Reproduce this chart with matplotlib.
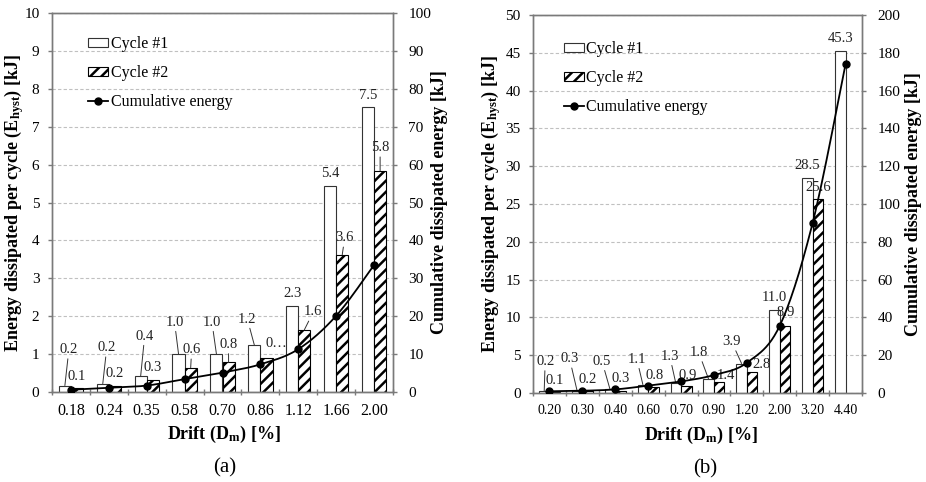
import numpy as np
import matplotlib
matplotlib.use("Agg")
import matplotlib.pyplot as plt
from matplotlib.lines import Line2D

plt.rcParams['font.family'] = ['Liberation Serif', 'DejaVu Serif']
plt.rcParams['mathtext.fontset'] = 'custom'
plt.rcParams['mathtext.rm'] = 'Liberation Serif'
plt.rcParams['mathtext.bf'] = 'Liberation Serif:bold'
plt.rcParams['mathtext.it'] = 'Liberation Serif:italic'
plt.rcParams['hatch.linewidth'] = 1.8
plt.rcParams['hatch.color'] = 'black'

# ---- panel (a) ----
drift_a = ["0.18", "0.24", "0.35", "0.58", "0.70", "0.86", "1.12", "1.66", "2.00"]
cycle1_a = [0.17, 0.22, 0.42, 1.00, 1.00, 1.24, 2.28, 5.44, 7.51]
cycle2_a = [0.10, 0.16, 0.32, 0.64, 0.78, 0.91, 1.64, 3.62, 5.84]
cumulative_a = [0.6, 1.1, 1.7, 3.4, 5.1, 7.3, 11.3, 20.1, 33.5]

# ---- panel (b) ----
drift_b = ["0.20", "0.30", "0.40", "0.60", "0.70", "0.90", "1.20", "2.00", "3.20", "4.40"]
cycle1_b = [0.2, 0.3, 0.5, 1.1, 1.3, 1.8, 3.9, 11.0, 28.5, 45.3]
cycle2_b = [0.1, 0.2, 0.3, 0.8, 0.9, 1.4, 2.8, 8.9, 25.6, np.nan]
cumulative_b = [0.9, 1.2, 1.9, 3.9, 6.1, 9.5, 16.0, 35.6, 90.0, 174.0]

# data-label placement (pixel offsets of label centre from bar top)
off1_a = [(4, 36), (4, 36), (4, 40), (-4, 32), (-4.5, 32), (-7, 26), (0, 12), (0, 12), (0, 12)]
off2_a = [(0, 12), (0, 12), (0, 12), (1, 18), (0, 18), (10, 14), (9, 18), (2.5, 17), (0, 23)]
off1_b = [(1, 30), (-7.5, 32), (-8, 28), (-6, 25.5), (-6, 27), (-10, 27), (-10, 22), (0, 12), (0, 12), (0, 12)]
off2_b = [(0, 12), (0, 12), (0, 12), (1, 11), (1.5, 11), (7, 7), (9, 7), (0.7, 13), (0, 12)]

GRAY = '#7a7a7a'
BAR_W = 0.32
PX = 72.0 / 100.0  # pixels -> points


def catmull_rom(x, y, n=24):
    pts = np.column_stack([x, y]).astype(float)
    P = np.vstack([pts[0], pts, pts[-1]])
    segs = []
    t = np.linspace(0, 1, n, endpoint=False)[:, None]
    for i in range(1, len(P) - 2):
        p0, p1, p2, p3 = P[i - 1], P[i], P[i + 1], P[i + 2]
        seg = 0.5 * ((2 * p1) + (-p0 + p2) * t + (2 * p0 - 5 * p1 + 4 * p2 - p3) * t ** 2
                     + (-p0 + 3 * p1 - 3 * p2 + p3) * t ** 3)
        segs.append(seg)
    segs.append(P[-2][None, :])
    s = np.vstack(segs)
    return s[:, 0], s[:, 1]


def label_bars(ax, xs, vals, offs, texts=None):
    for i, (x, v) in enumerate(zip(xs, vals)):
        if np.isnan(v):
            continue
        dx, dy = offs[i]
        txt = texts[i] if texts is not None else f"{v:.1f}"
        leader = dy > 15
        ax.annotate(txt, xy=(x, v), xytext=(dx * PX, dy * PX), textcoords='offset points',
                    ha='center', va='center', fontsize=10.5, color='#222222',
                    arrowprops=dict(arrowstyle='-', color='#333333', lw=0.7,
                                    shrinkA=0, shrinkB=0) if leader else None,
                    zorder=5)


def panel(ax, drift, c1, c2, cum, ymax, ystep, y2max, y2step, off1, off2,
          xfs, texts2=None, leg_anchor=(0.1, 0.94)):
    n = len(drift)
    x = np.arange(n)
    b1 = ax.bar(x - BAR_W / 2, c1, BAR_W, color='white', edgecolor='#333333',
                linewidth=0.8, label='Cycle #1', zorder=2)
    b2 = ax.bar(x + BAR_W / 2, c2, BAR_W, color='white', edgecolor='black',
                hatch='///', linewidth=0.8, label='Cycle #2', zorder=2)
    label_bars(ax, x - BAR_W / 2, c1, off1)
    label_bars(ax, x + BAR_W / 2, c2, off2, texts2)

    ax.set_xlim(-0.5, n - 0.5)
    ax.set_ylim(0, ymax)
    ax.set_yticks(np.arange(0, ymax + ystep / 2, ystep))
    ax.yaxis.grid(True, color='#c0c0c0', linestyle=(0, (3, 2)), linewidth=0.8)
    ax.set_axisbelow(True)
    ax.set_xticks(np.arange(-0.5, n, 1.0))
    ax.set_xticklabels([])
    ax.set_xticks(x, minor=True)
    ax.set_xticklabels(drift, minor=True)
    ax.tick_params(axis='x', which='major', direction='inout', length=5, width=1, color=GRAY)
    ax.tick_params(axis='x', which='minor', length=0, pad=8.2, labelsize=xfs)
    ax.tick_params(axis='y', direction='out', length=3, width=1, color=GRAY, pad=6, labelsize=11)

    ax2 = ax.twinx()
    ax2.set_ylim(0, y2max)
    ax2.set_yticks(np.arange(0, y2max + y2step / 2, y2step))
    ax2.tick_params(axis='y', direction='out', length=3, width=1, color=GRAY, pad=8, labelsize=11)
    sx, sy = catmull_rom(x, cum)
    ax2.plot(sx, sy, color='black', lw=1.3, zorder=4)
    ax2.plot(x, cum, 'o', color='black', markersize=5, zorder=5)
    for a in (ax, ax2):
        for sp in a.spines.values():
            sp.set_color(GRAY)
            sp.set_linewidth(1.0)

    handle_line = Line2D([], [], color='black', lw=1.3, marker='o', markersize=5)
    ax.legend([b1, b2, handle_line], ['Cycle #1', 'Cycle #2', 'Cumulative energy'],
              loc='upper left', bbox_to_anchor=leg_anchor, frameon=False, fontsize=11.5,
              handlelength=1.25, handleheight=0.5, handletextpad=0.15, labelspacing=0.82,
              borderpad=0, borderaxespad=0, numpoints=1)
    return ax2


fig = plt.figure(figsize=(9.26, 4.82), dpi=100)
ax_a = fig.add_axes([52 / 926, 1 - 392 / 482, 341 / 926, 379 / 482])
ax_b = fig.add_axes([533 / 926, 1 - 393 / 482, 329 / 926, 378 / 482])

texts2_a = [f"{v:.1f}" for v in cycle2_a]
texts2_a[5] = "0…"
ax_a2 = panel(ax_a, drift_a, cycle1_a, cycle2_a, cumulative_a, 10, 1, 100, 10,
              off1_a, off2_a, 11.5, texts2_a, leg_anchor=(0.106, 0.939))
ax_b2 = panel(ax_b, drift_b, cycle1_b, cycle2_b, cumulative_b, 50, 5, 200, 20,
              off1_b, off2_b, 10, None, leg_anchor=(0.094, 0.931))

ylab = r'Energy dissipated per cycle (E$_{\mathbf{hyst}}$) [kJ]'
y2lab = 'Cumulative dissipated energy [kJ]'
xlab = r'Drift (D$_{\mathbf{m}}$) [%]'

for ax, ax2, lx, rx, xx, panel_lab in ((ax_a, ax_a2, -0.111, 1.135, 0.504, '(a)'),
                                       (ax_b, ax_b2, -0.128, 1.158, 0.51, '(b)')):
    ax.set_ylabel(ylab, fontsize=13, fontweight='bold', va='center')
    ax.yaxis.set_label_coords(lx, 0.5)
    ax2.set_ylabel(y2lab, fontsize=13, fontweight='bold', va='center')
    ax2.yaxis.set_label_coords(rx, 0.5)
    ax.set_xlabel(xlab, fontsize=13, fontweight='bold', va='center')
    ax.xaxis.set_label_coords(xx, -0.113)

fig.text(224.5 / 926, 1 - 468 / 482, '(a)', fontsize=15, ha='center', va='center')
fig.text(705 / 926, 1 - 468.5 / 482, '(b)', fontsize=15, ha='center', va='center')

fig.savefig('out.png', dpi=100)
